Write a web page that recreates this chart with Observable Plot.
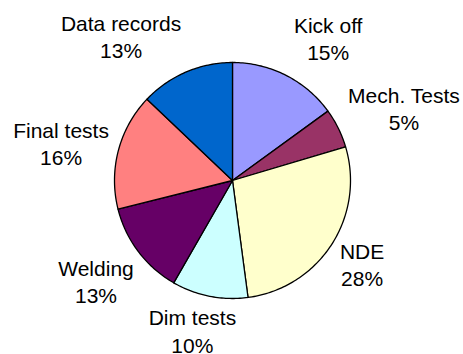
<!DOCTYPE html>
<html><head><meta charset="utf-8">
<script src="https://cdn.jsdelivr.net/npm/d3@7"></script>
<script src="https://cdn.jsdelivr.net/npm/@observablehq/plot@0.6"></script>
<style>body{margin:0;background:#fff}</style>
</head><body><div id="chart"></div>
<script>
// Data
const categories = ["Kick off", "Mech. Tests", "NDE", "Dim tests", "Welding", "Final tests", "Data records"];
const values = [15.0, 5.4, 27.5, 10.4, 12.8, 16.0, 12.9];
// Styles
const colors = ["#9999FF", "#993366", "#FFFFCC", "#CCFFFF", "#660066", "#FF8080", "#0066CC"];
// label layout nudges (px), relative to the mid-angle anchor
const labelNudge = {
  "Kick off": [18, 9.5], "Mech. Tests": [18, 3], "NDE": [-14, -9.5], "Dim tests": [-7, -18],
  "Welding": [0, -3], "Final tests": [-6, 5.5], "Data records": [-44, 12.5]
};

const R = 118; // px per data unit (pie radius)
const total = d3.sum(values);
let acc = 0;
const slices = categories.map((c, i) => {
  const a0 = acc / total * 2 * Math.PI;
  acc += values[i];
  const a1 = acc / total * 2 * Math.PI;
  return {category: c, a0, a1, pct: Math.round(values[i] / total * 100)};
});

const outline = slices.flatMap(s => {
  const n = Math.max(2, Math.ceil((s.a1 - s.a0) / (Math.PI / 180)));
  const pts = [{category: s.category, x: 0, y: 0}];
  for (let k = 0; k <= n; k++) {
    const a = s.a0 + (s.a1 - s.a0) * k / n;
    pts.push({category: s.category, x: Math.sin(a), y: Math.cos(a)});
  }
  return pts;
});

const labelR = 1.45;
const labels = slices.map(s => {
  const m = (s.a0 + s.a1) / 2;
  const [nx, ny] = labelNudge[s.category];
  return {
    x: labelR * Math.sin(m) + nx / R,
    y: labelR * Math.cos(m) - ny / R,
    text: s.category + "\n" + s.pct + "%"
  };
});

const chart = Plot.plot({
  width: 463, height: 354, margin: 0,
  x: {domain: [-1, 1], range: [232 - R, 232 + R], axis: null},
  y: {domain: [-1, 1], range: [180 + R, 180 - R], axis: null},
  color: {domain: categories, range: colors},
  style: {fontFamily: "'Liberation Sans', Arial, sans-serif", background: "white", color: "black"},
  marks: [
    Plot.line(outline, {x: "x", y: "y", z: "category", fill: "category", stroke: "black",
      strokeWidth: 1.3, curve: "linear-closed", strokeLinejoin: "round"}),
    Plot.text(labels, {x: "x", y: "y", text: "text", fill: "black", fontSize: 21, lineHeight: 1.29})
  ]
});
document.getElementById("chart").append(chart);
</script>
</body></html>
